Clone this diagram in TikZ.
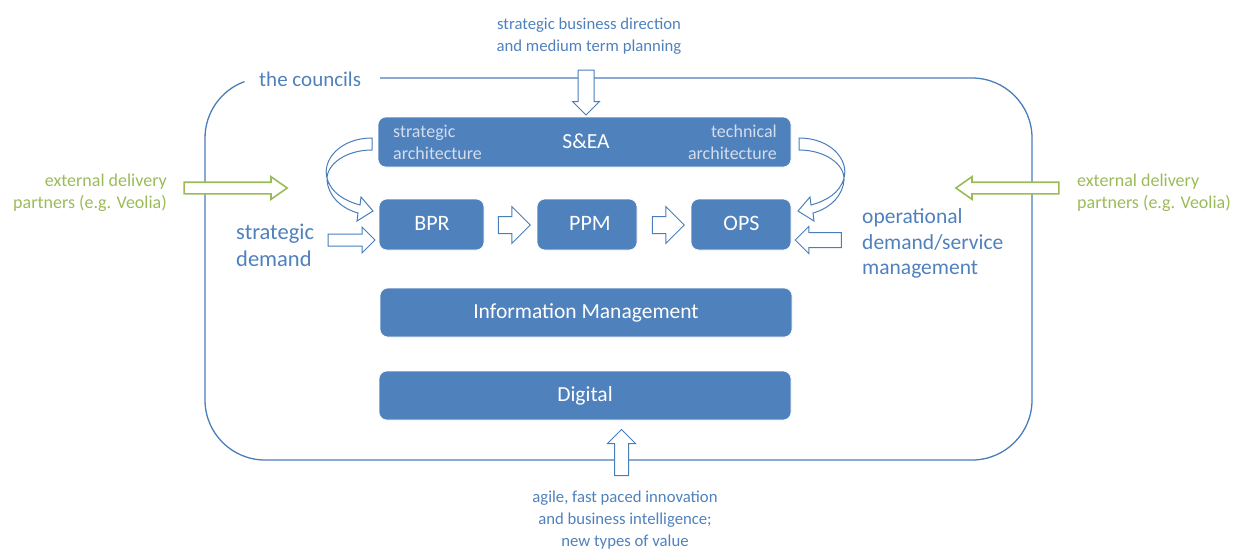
\documentclass[tikz,border=0pt]{standalone}
\usepackage{fontspec}
\setmainfont{Carlito}
\usetikzlibrary{shapes.arrows}
\definecolor{accent}{HTML}{4F81BD}
\definecolor{accline}{HTML}{4A7EBB}
\definecolor{leaf}{HTML}{9BBB59}
\definecolor{soft}{HTML}{D3DDEC}
\tikzset{
  blk/.style={fill=accent, rounded corners=8pt, draw=white, line width=0.6pt, text=white, font=\fontsize{21.5}{26}\selectfont, inner sep=0pt},
  barrow/.style={single arrow, draw=accline, fill=white, line width=1pt, inner xsep=0pt, single arrow head indent=0pt},
  varrow/.style={barrow, inner ysep=0pt},
  garrow/.style={barrow, draw=leaf, line width=1.6pt},
  lbl/.style={text=accent, align=center, inner sep=0pt},
  glbl/.style={text=leaf, inner sep=0pt, font=\fontsize{18}{22}\selectfont},
}
\begin{document}
\begin{tikzpicture}[x=1pt,y=-1pt]
\useasboundingbox (0,0) rectangle (1257,550);
% councils outline
\coordinate (cstart) at (380,78);
\draw[accline, line width=1.3pt] (cstart) -- (972,78) arc[start angle=-90,end angle=0,radius=60]
  -- (1032,400) arc[start angle=0,end angle=90,radius=60]
  -- (265,460) arc[start angle=90,end angle=180,radius=60]
  -- (205,138) arc[start angle=-180,end angle=-110,radius=60];
\node[lbl, font=\fontsize{21}{25}\selectfont, anchor=west] (councils) at (259,79) {the councils};

% top text
\node[lbl, font=\fontsize{16.7}{22}\selectfont] (topt) at (589,36) {strategic business direction\\and medium term planning};
% bottom text
\node[lbl, font=\fontsize{16.7}{22}\selectfont] (bott) at (625,520) {agile, fast paced innovation\\and business intelligence;\\new types of value};

% boxes
\node[blk, minimum width=413pt, minimum height=50pt] (sea) at (584.5,142) {};
\node[text=white, font=\fontsize{21.5}{26}\selectfont, inner sep=0pt] (sealbl) at (586,141) {S\&EA};
\node[text=soft, font=\fontsize{18}{22}\selectfont, align=left, anchor=west, inner sep=0pt] (stratarch) at (393,142) {strategic\\architecture};
\node[text=soft, font=\fontsize{18}{22}\selectfont, align=right, anchor=east, inner sep=0pt] (techarch) at (777,142) {technical\\architecture};

\node[blk, minimum width=105pt, minimum height=51pt] (bpr) at (431.5,224.5) {};
\node[blk, minimum width=100pt, minimum height=51pt] (ppm) at (587,224.5) {};
\node[blk, minimum width=100pt, minimum height=51pt] (ops) at (741,224.5) {};
\node[text=white, font=\fontsize{22}{26}\selectfont, inner sep=0pt] (bprl) at (432,223.5) {BPR};
\node[text=white, font=\fontsize{22}{26}\selectfont, inner sep=0pt] (ppml) at (590,223.5) {PPM};
\node[text=white, font=\fontsize{22}{26}\selectfont, inner sep=0pt] (opsl) at (741.5,223.5) {OPS};
\node[blk, minimum width=412pt, minimum height=49pt] (info) at (586,312.5) {Information Management};
\node[blk, minimum width=412pt, minimum height=49pt] (digital) at (585,395.5) {Digital};

% side texts
\node[lbl, font=\fontsize{22.5}{27}\selectfont, align=left, anchor=west] (sdem) at (236,245) {strategic\\demand};
\node[lbl, font=\fontsize{21.5}{25.5}\selectfont, align=left, anchor=west] (odem) at (862,243.5) {operational\\demand/service\\management};
\node[glbl, align=right, anchor=east] (extl) at (167,193) {external delivery\\partners (e.g. Veolia)};
\node[glbl, align=left, anchor=west] (extr) at (1077,193) {external delivery\\partners (e.g. Veolia)};

% straight block arrows
\node[varrow, shape border rotate=270, minimum height=45pt, inner xsep=7.5pt, single arrow head extend=5.5pt] (adown) at (586,88.5) {};
\node[barrow, minimum height=32pt, inner ysep=8pt, single arrow head extend=10pt] (a1) at (510,225) {};
\node[barrow, minimum height=32pt, inner ysep=8pt, single arrow head extend=10pt] (a2) at (664,225) {};
\node[barrow, minimum height=47pt, inner ysep=5.5pt, single arrow head extend=7pt] (asd) at (348.5,240) {};
\node[barrow, shape border rotate=180, minimum height=46pt, inner ysep=7pt, single arrow head extend=6pt] (aod) at (822,240) {};
\node[varrow, shape border rotate=90, minimum height=46pt, inner xsep=6.5pt, single arrow head extend=7pt] (aup) at (621.5,456) {};
\node[garrow, minimum height=103pt, inner ysep=5pt, single arrow head extend=5.5pt, single arrow tip angle=70] (gl) at (231.5,188) {};
\node[garrow, shape border rotate=180, minimum height=103pt, inner ysep=5pt, single arrow head extend=5.5pt, single arrow tip angle=70] (gr) at (1011.5,188) {};

% curved block arrows
\draw[accline, line width=1pt, fill=white] (372,138) .. controls (340,138) and (322,160) .. (327,178)
  .. controls (331,193) and (345,201) .. (360,205) -- (361,197) -- (373,211) -- (357,221) -- (358,213)
  .. controls (340,208) and (328,195) .. (327,180) .. controls (326,165) and (345,150) .. (372,150) -- cycle;
\draw[accline, line width=1pt, fill=white] (799,138) .. controls (831,138) and (849,160) .. (844,178)
  .. controls (840,193) and (826,201) .. (811,205) -- (810,197) -- (798,211) -- (814,221) -- (813,213)
  .. controls (831,208) and (843,195) .. (844,180) .. controls (845,165) and (826,150) .. (799,150) -- cycle;
\end{tikzpicture}
\end{document}
